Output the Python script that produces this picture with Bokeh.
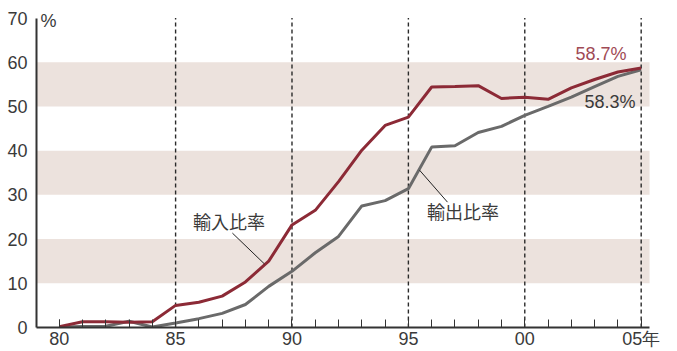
from bokeh.plotting import figure
from bokeh.models import Range1d, FixedTicker, Label
from bokeh.embed import file_html
from bokeh.resources import INLINE

years = list(range(1980, 2006))
import_ratio = [0.2, 1.3, 1.3, 1.2, 1.3, 5.0, 5.7, 7.1, 10.3, 15.0, 23.2, 26.5, 33.0,
                40.1, 45.7, 47.6, 54.4, 54.5, 54.7, 51.8, 52.1, 51.6, 54.2, 56.1, 57.8, 58.7]
export_ratio = [0.1, 0.2, 0.3, 1.4, 0.1, 1.0, 2.0, 3.2, 5.2, 9.3, 12.7, 16.9, 20.6,
                27.5, 28.7, 31.4, 40.8, 41.1, 44.1, 45.5, 48.0, 50.0, 52.1, 54.5, 56.8, 58.3]
band_bottom = [10, 30, 50]
band_top = [20, 40, 60]
dash_years = [1985, 1990, 1995, 2000, 2005]
y_ticks = [0, 10, 20, 30, 40, 50, 60, 70]
x_ticks = [1980, 1985, 1990, 1995, 2000, 2005]
x_tick_labels = ["80", "85", "90", "95", "00", "05年"]

XL, XR = 1979.025, 2005.36
FONT = "Liberation Sans"
CJK = "Noto Sans CJK JP"
RED = "#8c2a36"
GRAY = "#6a6a6a"
TXT = "#3a3a3a"

p = figure(width=677, height=351, output_backend="svg", toolbar_location=None,
           x_range=Range1d(XL, 2005.83), y_range=Range1d(0, 71.7),
           min_border_left=36, min_border_right=17, min_border_top=10, min_border_bottom=23,
           outline_line_color=None, background_fill_color="white", border_fill_color="white")
p.grid.visible = False

p.quad(left=XL, right=XR, bottom=band_bottom, top=band_top,
       fill_color="#ece2dd", line_color=None)
p.segment(x0=dash_years, y0=0, x1=dash_years, y1=70, line_color="#2a2a2a",
          line_width=1.4, line_dash="4 3")

p.line(years, export_ratio, line_color=GRAY, line_width=3)
p.line(years, import_ratio, line_color=RED, line_width=3)

# leader lines
p.segment(x0=[1987.44, 1995.48], y0=[21.35, 35.58], x1=[1988.82, 1996.68], y1=[14.36, 28.35],
          line_color="#222222", line_width=1)

# axes
ya = p.yaxis[0]
ya.ticker = FixedTicker(ticks=y_ticks)
ya.bounds = (0, 70)
ya.axis_line_width = 2
ya.axis_line_color = "#333333"
ya.major_tick_line_color = None
ya.minor_tick_line_color = None
ya.major_label_standoff = 3
ya.major_label_text_font = FONT
ya.major_label_text_font_size = "18px"
ya.major_label_text_color = TXT

xa = p.xaxis[0]
xa.ticker = FixedTicker(ticks=x_ticks, minor_ticks=years)
xa.bounds = (XL, XR)
xa.axis_line_width = 2
xa.axis_line_color = "#333333"
xa.major_tick_in = 8
xa.major_tick_out = 0
xa.minor_tick_in = 8
xa.minor_tick_out = 0
xa.major_tick_line_color = "#333333"
xa.minor_tick_line_color = "#333333"
xa.major_label_standoff = 1
xa.major_label_overrides = {x: s for x, s in zip(x_ticks, x_tick_labels)}
xa.major_label_text_font = FONT
xa.major_label_text_font_size = "18px"
xa.major_label_text_color = TXT

# labels
p.add_layout(Label(x=1979.2, y=69.4, text="%", text_font=FONT, text_font_size="18px",
                   text_color=TXT, text_baseline="middle", text_align="left"))
p.add_layout(Label(x=1987.29, y=24.06, text="輸入比率", text_font=CJK, text_font_size="18px",
                   text_color=TXT, text_baseline="middle", text_align="center"))
p.add_layout(Label(x=1997.35, y=26.32, text="輸出比率", text_font=CJK, text_font_size="18px",
                   text_color=TXT, text_baseline="middle", text_align="center"))
p.add_layout(Label(x=2004.37, y=61.76, text="58.7%", text_font=FONT, text_font_size="18px",
                   text_color="#a04a55", text_baseline="middle", text_align="right"))
p.add_layout(Label(x=2004.76, y=51.04, text="58.3%", text_font=FONT, text_font_size="18px",
                   text_color=TXT, text_baseline="middle", text_align="right"))

open("out.html", "w").write(file_html(p, INLINE))
